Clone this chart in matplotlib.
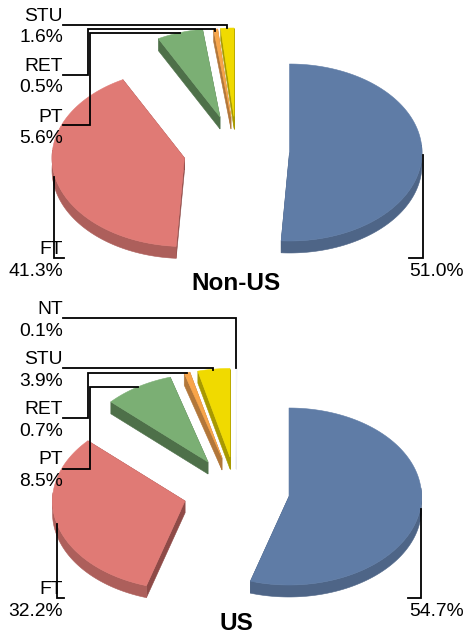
import numpy as np
import matplotlib
matplotlib.use("Agg")
import matplotlib.pyplot as plt

plt.rcParams['font.family'] = ['Liberation Sans', 'DejaVu Sans']

# shares in percent, clockwise from 12 o'clock
nonus_names = ["FTE", "FT", "PT", "RET", "STU"]
nonus_values = [51.0, 41.3, 5.6, 0.5, 1.6]
us_names = ["FTE", "FT", "PT", "RET", "STU", "NT"]
us_values = [54.7, 32.2, 8.5, 0.7, 3.9, 0.1]

# each group: top colour, arc side, flat side
colors = {
    "FTE": ("#5F7CA6", "#4E6587", "#3F5370"),
    "FT": ("#E07A75", "#AD5F5B", "#8E4A47"),
    "PT": ("#7BAF74", "#4E7049", "#4E7049"),
    "RET": ("#F8A54A", "#B2773A", "#B2773A"),
    "STU": ("#F0DA00", "#A89900", "#A89900"),
    "NT": ("#F4F6FA", "#E8EAF0", "#E8EAF0"),
}

# where every slice tip ends up after the explode
nonus_tips = [(289.5, 152.5), (184.5, 158), (220, 117), (231, 117), (234, 116.5)]
us_tips = [(289, 496.5), (185, 501), (208, 462), (222, 458), (230, 457), (236, 457)]

RX = 132.5
RY = 88.5
DEPTH = 12
FS = 13.9

fig = plt.figure(figsize=(4.65, 6.34), dpi=100)
ax = fig.add_axes([0, 0, 1, 1])
ax.set_xlim(0, 465)
ax.set_ylim(634, 0)
ax.axis('off')


def fill(pts, color):
    pts = np.array(pts)
    ax.fill(pts[:, 0], pts[:, 1], color=color, lw=0.4, zorder=2)


def draw_pie(names, values, tips):
    cum = 0
    for name, val, tip in zip(names, values, tips):
        a = np.radians(np.linspace(cum, cum + val, max(int(val * 4), 3)) * 3.6)
        cum += val
        x = tip[0] + RX * np.sin(a)
        y = tip[1] - RY * np.cos(a)
        top, arc_side, flat_side = colors[name]
        # flat cut faces
        for i in (0, -1):
            fill([tip, (x[i], y[i]), (x[i], y[i] + DEPTH), (tip[0], tip[1] + DEPTH)], flat_side)
        # rim, one polygon so no seams show
        front = np.cos(a) < 0.1
        if front.sum() > 1:
            rim = list(zip(x[front], y[front])) + list(zip(x[front][::-1], y[front][::-1] + DEPTH))
            fill(rim, arc_side)
        fill([tip] + list(zip(x, y)), top)


def leader(xs, ys):
    ax.plot(xs, ys, color='black', lw=1.3, solid_joinstyle='miter', zorder=3)


def label(name, val, y1, y2):
    ax.text(63, y1 + 7, name, ha='right', va='baseline', fontsize=FS, zorder=4)
    ax.text(63, y2 + 7, f"{val:.1f}%", ha='right', va='baseline', fontsize=FS, zorder=4)


draw_pie(nonus_names, nonus_values, nonus_tips)
draw_pie(us_names, us_values, us_tips)

# Non-US
leader([63, 227, 227], [24.5, 24.5, 28])
leader([63, 87.5, 87.5, 215, 215], [74.5, 74.5, 28.5, 28.5, 31])
leader([63, 90, 90, 180], [125, 125, 33, 33])
leader([54, 54, 64], [177, 258, 258])
leader([422.7, 422.7, 409], [155, 258, 258])
label(nonus_names[4], nonus_values[4], 14, 35)
label(nonus_names[3], nonus_values[3], 64, 85)
label(nonus_names[2], nonus_values[2], 114.5, 136)
label(nonus_names[1], nonus_values[1], 247, 269)
ax.text(409, 276, f"{nonus_values[0]:.1f}%", ha='left', va='baseline', fontsize=FS, zorder=4)
ax.text(236, 290, "Non-US", ha='center', va='baseline', fontsize=17.5, fontweight='bold', zorder=4)

# US
leader([63, 236, 236], [318, 318, 368])
leader([63, 213, 213], [368, 368, 369.5])
leader([63, 87.5, 87.5, 187], [418, 418, 372.5, 372.5])
leader([63, 90, 90, 138], [468.5, 468.5, 386.5, 386.5])
leader([57, 57, 64], [524, 598, 598])
leader([421, 421, 408], [509, 598, 598])
label(us_names[5], us_values[5], 307, 329)
label(us_names[4], us_values[4], 357, 379)
label(us_names[3], us_values[3], 407, 429)
label(us_names[2], us_values[2], 457, 479)
label(us_names[1], us_values[1], 587, 609)
ax.text(409, 616, f"{us_values[0]:.1f}%", ha='left', va='baseline', fontsize=FS, zorder=4)
ax.text(236, 630, "US", ha='center', va='baseline', fontsize=17.5, fontweight='bold', zorder=4)

fig.savefig("out.png", dpi=100)
